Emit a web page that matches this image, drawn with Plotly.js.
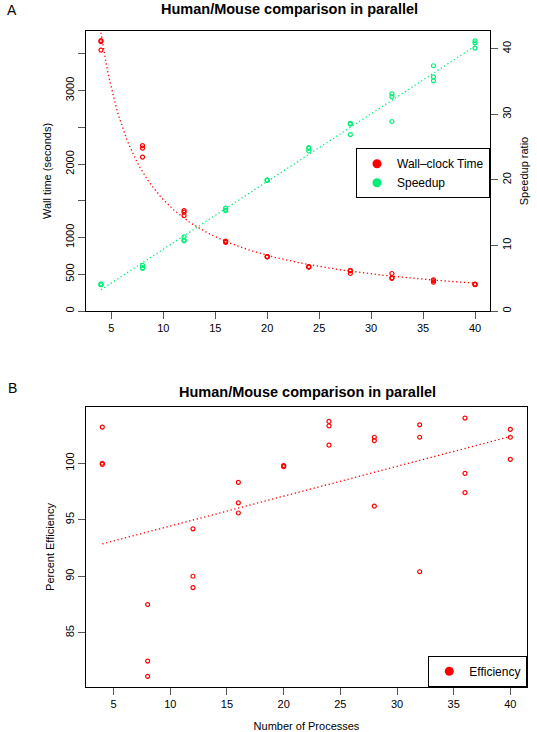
<!DOCTYPE html>
<html>
<head>
<meta charset="utf-8">
<script src="https://cdn.plot.ly/plotly-3.0.1.min.js"></script>
<style>
  html, body { margin: 0; padding: 0; background: #fff; }
  #chart { width: 537px; height: 732px; }
</style>
</head>
<body>
<div id="chart"></div>
<script>
// ---- Data ----
var procs = [4, 8, 12, 16, 20, 24, 28, 32, 36, 40];
// three replicate runs per number of processes
var procsRep = [4,4,4, 8,8,8, 12,12,12, 16,16,16, 20,20,20, 24,24,24, 28,28,28, 32,32,32, 36,36,36, 40,40,40];
var wallTime = [3680,3665,3550, 2250,2215,2095, 1365,1345,1297, 952,945,935, 740,738,736,
                605,600,595, 553,545,510, 510,450,444, 425,412,392, 366,362,358];
var speedup = [4.13,4.0,4.0, 6.95,6.6,6.5, 11.3,10.8,10.7, 15.7,15.4,15.3, 19.95,19.95,19.9,
               24.9,24.8,24.4, 28.6,28.5,26.9, 33.1,32.7,28.9, 37.4,35.7,35.1, 41.2,40.9,40.1];
var efficiency = [103.2,100.0,99.9, 87.5,82.5,81.15, 94.2,90.0,89.0, 98.3,96.5,95.6, 99.8,99.75,99.7,
                  103.7,103.3,101.6, 102.3,102.0,96.2, 103.4,102.3,90.4, 104.0,99.1,97.4, 103.0,102.3,100.35];
var xTicks = [5, 10, 15, 20, 25, 30, 35, 40];
var wallTicks = [0, 500, 1000, 1500, 2000, 2500, 3000, 3500];
var wallTickText = ['0', '500', '1000', '', '2000', '', '3000', ''];
var speedTicks = [0, 10, 20, 30, 40];
var effTicks = [85, 90, 95, 100];

// ---- Fits derived from the data ----
function linFit(xs, ys) {
  var n = xs.length, mx = 0, my = 0;
  for (var i = 0; i < n; i++) { mx += xs[i]; my += ys[i]; }
  mx /= n; my /= n;
  var sxy = 0, sxx = 0;
  for (var j = 0; j < n; j++) { sxy += (xs[j]-mx)*(ys[j]-my); sxx += (xs[j]-mx)*(xs[j]-mx); }
  var b = sxy / sxx;
  return { a: my - b*mx, b: b };
}
function invFit(xs, ys) { // y = k / x
  var num = 0, den = 0;
  for (var i = 0; i < xs.length; i++) { num += ys[i]/xs[i]; den += 1/(xs[i]*xs[i]); }
  return num/den;
}
var grid = [];
for (var g = procs[0]; g <= procs[procs.length-1] + 1e-9; g += 0.25) grid.push(g);
var kWall = invFit(procsRep, wallTime);
var wallFit = grid.map(function (v) { return kWall / v; });
var sp = linFit(procsRep, speedup);
var speedFit = [procs[0], procs[procs.length-1]];
var speedFitY = speedFit.map(function (v) { return sp.a + sp.b*v; });
var ef = linFit(procsRep, efficiency);
var effFitY = speedFit.map(function (v) { return ef.a + ef.b*v; });

var RED = '#ff0000';
var GREEN = '#00ee76';
var FONT = 'Liberation Sans, Arial, Helvetica, sans-serif';
var W = 537, H = 732;
function px(x) { return x / W; }
function py(y) { return 1 - y / H; }

var openMarker = function (c) { return { symbol: 'circle-open', size: 4, color: c, line: { width: 1.2, color: c } }; };
var dotLine = function (c) { return { color: c, width: 1.3, dash: '1.3px,2.6px' }; };

var traces = [
  { x: procsRep, y: wallTime, type: 'scatter', mode: 'markers', marker: openMarker(RED),
    xaxis: 'x', yaxis: 'y', showlegend: false, hoverinfo: 'skip' },
  { x: grid, y: wallFit, type: 'scatter', mode: 'lines', line: dotLine(RED),
    xaxis: 'x', yaxis: 'y', showlegend: false, hoverinfo: 'skip' },
  { x: procsRep, y: speedup, type: 'scatter', mode: 'markers', marker: openMarker(GREEN),
    xaxis: 'x', yaxis: 'y2', showlegend: false, hoverinfo: 'skip' },
  { x: speedFit, y: speedFitY, type: 'scatter', mode: 'lines', line: dotLine(GREEN),
    xaxis: 'x', yaxis: 'y2', showlegend: false, hoverinfo: 'skip' },
  { x: procsRep, y: efficiency, type: 'scatter', mode: 'markers', marker: openMarker(RED),
    xaxis: 'x2', yaxis: 'y3', showlegend: false, hoverinfo: 'skip' },
  { x: speedFit, y: effFitY, type: 'scatter', mode: 'lines', line: dotLine(RED),
    xaxis: 'x2', yaxis: 'y3', showlegend: false, hoverinfo: 'skip' },
  // legend entries
  { x: [null], y: [null], type: 'scatter', mode: 'markers', name: 'Wall\u2013clock Time',
    marker: { symbol: 'circle', size: 9, color: RED }, xaxis: 'x', yaxis: 'y', legend: 'legend' },
  { x: [null], y: [null], type: 'scatter', mode: 'markers', name: 'Speedup',
    marker: { symbol: 'circle', size: 9, color: GREEN }, xaxis: 'x', yaxis: 'y', legend: 'legend' },
  { x: [null], y: [null], type: 'scatter', mode: 'markers', name: 'Efficiency',
    marker: { symbol: 'circle', size: 9, color: RED }, xaxis: 'x2', yaxis: 'y3', legend: 'legend2' }
];

var axisCommon = {
  showline: true, linecolor: '#000', linewidth: 1,
  ticks: 'outside', ticklen: 7, tickwidth: 1, tickcolor: '#555',
  showgrid: false, zeroline: false,
  tickfont: { family: FONT, size: 11, color: '#000' }
};
function ax(extra) { return Object.assign({}, axisCommon, extra); }

var layout = {
  width: W, height: H,
  margin: { l: 0, r: 0, t: 0, b: 0 },
  paper_bgcolor: '#fff', plot_bgcolor: '#fff',
  font: { family: FONT, size: 11, color: '#000' },
  xaxis: ax({ domain: [px(86), px(490)], range: [2.56, 41.44], anchor: 'y',
              tickmode: 'array', tickvals: xTicks, mirror: true }),
  yaxis: ax({ domain: [py(311), py(31)], range: [0, 3810], anchor: 'x',
              tickmode: 'array', tickvals: wallTicks, ticktext: wallTickText, tickangle: -90,
              title: { text: 'Wall time (seconds)', font: { family: FONT, size: 11 }, standoff: 9 } }),
  yaxis2: ax({ overlaying: 'y', side: 'right', anchor: 'x', range: [0, 42.7],
               tickmode: 'array', tickvals: speedTicks, tickangle: -90,
               title: { text: 'Speedup ratio', font: { family: FONT, size: 11 }, standoff: 8 } }),
  xaxis2: ax({ domain: [px(86), px(527)], range: [2.56, 41.47], anchor: 'y3',
               tickmode: 'array', tickvals: xTicks, mirror: true,
               title: { text: 'Number of Processes', font: { family: FONT, size: 11 }, standoff: 13 } }),
  yaxis3: ax({ domain: [py(686.7), py(407.3)], range: [80.23, 104.95], anchor: 'x2',
               tickmode: 'array', tickvals: effTicks, tickangle: -90, mirror: true,
               title: { text: 'Percent Efficiency', font: { family: FONT, size: 11 }, standoff: 6 } }),
  legend: { x: px(490), xanchor: 'right', y: py(148.3), yanchor: 'top',
            bgcolor: '#fff', bordercolor: '#000', borderwidth: 1,
            font: { family: FONT, size: 12 }, itemwidth: 30, tracegroupgap: 0 },
  legend2: { x: px(527.3), xanchor: 'right', y: py(686.7), yanchor: 'bottom',
             bgcolor: '#fff', bordercolor: '#000', borderwidth: 1,
             font: { family: FONT, size: 12 }, itemwidth: 30 },
  annotations: [
    { text: 'A', x: px(12), y: py(10), xref: 'paper', yref: 'paper', showarrow: false,
      font: { family: FONT, size: 14 }, xanchor: 'center', yanchor: 'middle' },
    { text: 'B', x: px(12), y: py(388), xref: 'paper', yref: 'paper', showarrow: false,
      font: { family: FONT, size: 14 }, xanchor: 'center', yanchor: 'middle' },
    { text: '<b>Human/Mouse comparison in parallel</b>', x: px(289), y: py(9), xref: 'paper', yref: 'paper',
      showarrow: false, font: { family: FONT, size: 14.5 }, xanchor: 'center', yanchor: 'middle' },
    { text: '<b>Human/Mouse comparison in parallel</b>', x: px(307), y: py(392), xref: 'paper', yref: 'paper',
      showarrow: false, font: { family: FONT, size: 14.5 }, xanchor: 'center', yanchor: 'middle' }
  ]
};

Plotly.newPlot('chart', traces, layout, { staticPlot: true, displayModeBar: false });
</script>
</body>
</html>
